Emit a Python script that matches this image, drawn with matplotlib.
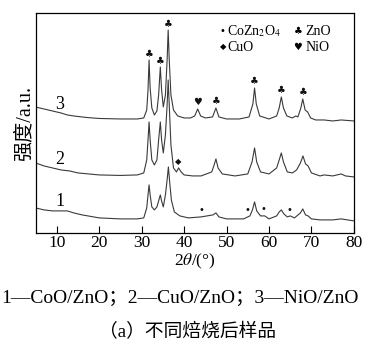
import numpy as np
import matplotlib.pyplot as plt

plt.rcParams['font.family'] = ['Liberation Serif', 'Noto Sans CJK SC', 'DejaVu Sans']
plt.rcParams['mathtext.fontset'] = 'stix'

# sample 3 - NiO/ZnO
tt_3 = [5, 7, 9, 11, 12.5, 14, 17, 20, 25, 29, 30.5, 31.2, 31.5, 31.75, 32.0, 32.4, 33.0, 33.6,
        34.0, 34.4, 34.7, 35.1, 35.6, 36.0, 36.25, 36.5, 36.9, 37.5, 38.5, 40, 41.5, 42.5, 43.2,
        43.9, 45, 46.7, 47.5, 48.2, 50, 53, 55.3, 56.2, 56.6, 57.0, 57.8, 60, 61.8, 62.4, 62.9,
        63.4, 64.2, 65.5, 66.3, 66.8, 67.5, 67.95, 68.5, 69.1, 69.8, 71, 73, 75, 77, 80]
int_3 = [126, 124, 122, 120, 118, 117, 115.5, 114.5, 114, 114, 115, 123, 143, 173, 145, 125, 118, 122,
         138, 166, 143, 126, 138, 173, 203, 173, 138, 123, 117, 115, 115, 117, 124,
         117, 115, 116, 125, 116, 114, 114, 116, 129, 145, 129, 117, 114, 117, 125, 136,
         125, 117, 115, 117, 116, 125, 134, 123, 121, 115, 113, 113, 112, 113, 112]

# sample 2 - CuO/ZnO
tt_2 = [5, 7, 9, 11, 13, 15, 20, 25, 29, 30.5, 31.2, 31.5, 31.75, 32.0, 32.4, 33.0, 33.6, 34.0,
        34.4, 34.7, 35.1, 35.6, 36.0, 36.25, 36.5, 36.9, 37.5, 38.2, 38.7, 39.3, 40, 42, 44, 46.5,
        47.0, 47.5, 48.0, 49, 52, 55, 56.0, 56.6, 57.1, 58, 60, 61.8, 62.4, 62.9, 63.4, 64.3,
        65.5, 66.5, 67.4, 68.0, 68.6, 69.2, 70, 72, 73, 75, 77, 78, 80]
int_2 = [70, 67, 65, 63, 62, 60, 58, 57.5, 58, 60, 73, 93, 111, 93, 73, 68, 73, 93,
         111, 93, 80, 98, 128, 153, 128, 88, 65, 61, 65, 61, 58, 57, 57, 61,
         67, 74, 65, 59, 57, 59, 71, 85, 71, 61, 59, 65, 73, 80, 71, 61,
         60, 63, 70, 77, 69, 67, 60, 57, 58, 57, 59, 57, 56]

# sample 1 - CoO/ZnO
tt_1 = [5, 7, 9, 11, 12.5, 14, 16, 20, 25, 29, 30.5, 31.2, 31.5, 31.75, 32.0, 32.4, 33.0, 33.6,
        34.0, 34.4, 34.7, 35.1, 35.6, 36.0, 36.3, 36.6, 37.0, 37.7, 39, 41, 44, 46.8, 47.5, 48.2,
        50, 54, 55.5, 56.1, 56.6, 57.1, 58, 59, 60, 61.8, 62.4, 62.9, 63.5, 64.3, 65, 66,
        67.4, 67.95, 68.6, 69.2, 70, 72, 75, 77, 80]
int_1 = [25, 23, 22, 22, 22, 20, 18, 15, 14, 14, 15, 25, 38, 48, 38, 26, 23, 26,
         32, 38, 32, 26, 38, 53, 66, 51, 33, 21, 17, 15, 16, 18, 20, 16,
         14, 14, 17, 23, 31, 22, 17, 17, 14, 17, 21, 23, 19, 16, 17, 15,
         20, 24, 18, 17, 14, 13, 13, 14, 12]

# phase markers (peak positions)
zno_peaks = [31.75, 34.4, 36.25, 47.5, 56.6, 62.9, 67.95]
nio_peaks = [43.2]
cuo_peaks = [38.7]
cozn_peaks = [44.2, 55.0, 58.8, 64.9]

fig = plt.figure(figsize=(3.66, 3.43), dpi=100)
ax = fig.add_axes([0.097, 0.321, 0.870, 0.641])

line_col = '#3a3a3a'
ax.plot(tt_3, int_3, color=line_col, lw=0.8)
ax.plot(tt_2, int_2, color=line_col, lw=0.8)
ax.plot(tt_1, int_1, color=line_col, lw=0.8)

sym_kw = dict(ha='center', va='bottom', fontsize=7, family='DejaVu Sans', color='#111111')
for p in zno_peaks:
    ax.text(p, np.interp(p, tt_3, int_3) + 1.5, '\u2663', **sym_kw)
for p in nio_peaks:
    ax.text(p, np.interp(p, tt_3, int_3) + 1.5, '\u2665', **sym_kw)
for p in cuo_peaks:
    ax.text(p, np.interp(p, tt_2, int_2) + 2, '\u25c6', ha='center', va='bottom', fontsize=6,
            family='DejaVu Sans', color='#111111')
for p in cozn_peaks:
    ax.text(p, np.interp(p, tt_1, int_1) + 1.5, '\u2022', **sym_kw)

# curve numbers
ax.text(10.7, 128, '3', ha='center', va='center', fontsize=13)
ax.text(10.7, 73, '2', ha='center', va='center', fontsize=13)
ax.text(10.7, 31, '1', ha='center', va='center', fontsize=13)

# legend
leg_kw = dict(ha='center', va='center', family='DejaVu Sans')
ax.text(49.1, 202, '\u2022', fontsize=7, **leg_kw)
ax.text(50.1, 202, r'CoZn$_2$O$_4$', ha='left', va='center', fontsize=10)
ax.text(49.1, 186, '\u25c6', fontsize=6, **leg_kw)
ax.text(50.1, 186, 'CuO', ha='left', va='center', fontsize=10)
ax.text(66.8, 202, '\u2663', fontsize=7, **leg_kw)
ax.text(68.6, 202, 'ZnO', ha='left', va='center', fontsize=10)
ax.text(66.8, 186, '\u2665', fontsize=7, **leg_kw)
ax.text(68.6, 186, 'NiO', ha='left', va='center', fontsize=10)

ax.set_xlim(5, 80)
ax.set_ylim(0, 220)
ax.set_xticks([10, 20, 30, 40, 50, 60, 70, 80])
ax.set_yticks([])
ax.tick_params(axis='x', direction='in', length=5, width=0.8, labelsize=12.5, pad=1.5)
for s in ax.spines.values():
    s.set_linewidth(0.9)

ax.set_xlabel(r'2$\mathit{\theta}$/(°)', fontsize=12.5, labelpad=0.5)
ax.set_ylabel('强度/a.u.', fontsize=14.5, family=['Liberation Serif', 'Noto Sans CJK SC'], labelpad=1)

fig.text(0.003, 0.131, '1—CoO/ZnO；2—CuO/ZnO；3—NiO/ZnO', ha='left', va='center', fontsize=14)
fig.text(0.513, 0.032, '（a）不同焙烧后样品', ha='center', va='center', fontsize=13.5,
         family=['Liberation Serif', 'Noto Sans CJK SC'])

fig.savefig('out.png', dpi=100)
